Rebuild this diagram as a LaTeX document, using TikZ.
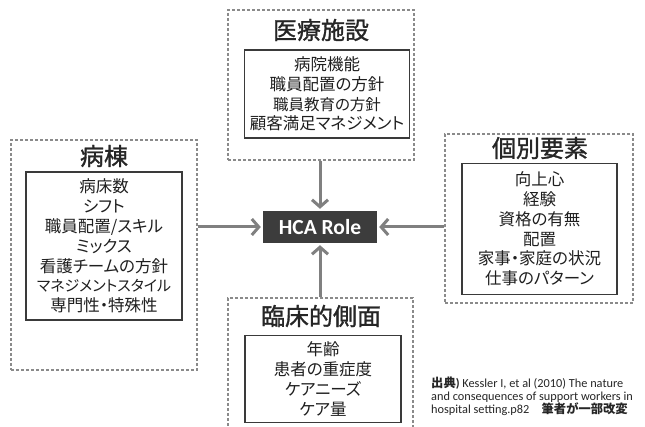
\documentclass[tikz,border=0pt]{standalone}
\usepackage{fontspec}
\setmainfont{Carlito}
\newfontfamily\jp[RawFeature=+palt]{Noto Sans CJK JP}
\newfontfamily\jpt[RawFeature=+palt, FakeBold=1.2]{Noto Sans CJK JP}
\usetikzlibrary{arrows.meta}
\definecolor{dashgray}{HTML}{8A8A8A}
\definecolor{boxgray}{HTML}{3A3A3A}
\definecolor{arrgray}{HTML}{808080}
\definecolor{hcafill}{HTML}{3C3C3C}
\begin{document}
\begin{tikzpicture}[x=1pt,y=-1pt,
  outbox/.style={draw=dashgray, dash pattern=on 3pt off 2pt, line width=1.1pt, rectangle, inner sep=0pt},
  inbox/.style={draw=boxgray, line width=1.3pt, rectangle, inner sep=0pt, align=center, text=black!88,
    font=\jp\fontsize{16.5}{19.8}\selectfont},
  ttl/.style={font=\jpt\fontsize{24}{24}\selectfont, text=black!85, inner sep=0pt},
  arr/.style={draw=arrgray, line width=3pt, -{Straight Barb[length=7pt,width=16pt]}, shorten >=2pt}]
\useasboundingbox (0,0) rectangle (645,427);
\fill[white] (0,0) rectangle (645,427);

% outer dashed boxes
\node[outbox, minimum width=186pt, minimum height=150pt] (top) at (321,85) {};
\node[outbox, minimum width=186pt, minimum height=230pt] (left) at (104,255) {};
\node[outbox, minimum width=188pt, minimum height=169pt] (right) at (539,218.5) {};
\node[outbox, minimum width=185pt, minimum height=150pt] (bottom) at (320.5,373) {};

% titles
\node[ttl] (ttop) at (321,30) {医療施設};
\node[ttl] (tleft) at (104,156) {病棟};
\node[ttl] (tright) at (540,148) {個別要素};
\node[ttl] (tbottom) at (321,316) {臨床的側面};

% inner boxes
\node[inbox, minimum width=165pt, minimum height=88pt] (itop) at (327,94)
  {病院機能\\職員配置の方針\\{\fontsize{15.5}{19.8}\selectfont 職員教育の方針}\\顧客満足マネジメント};
\node[inbox, minimum width=156pt, minimum height=148pt] (ileft) at (104,246)
  {病床数\\シフト\\職員配置/スキル\\ミックス\\看護チームの方針\\{\fontsize{15}{19.8}\selectfont マネジメントスタイル}\\専門性・特殊性};
\node[inbox, minimum width=155pt, minimum height=131pt] (iright) at (539.5,229)
  {向上心\\経験\\資格の有無\\配置\\家事・家庭の状況\\仕事のパターン};
\node[inbox, minimum width=156pt, minimum height=87pt] (ibottom) at (323,379)
  {年齢\\患者の重症度\\ケアニーズ\\ケア量};

% center
\node[fill=hcafill, text=white, minimum width=114pt, minimum height=32pt, inner sep=0pt,
  font=\bfseries\fontsize{21.5}{21.5}\selectfont] (hca) at (320,227) {HCA Role};

% arrows
\draw[arr] (hca |- top.south) -- (hca.north);
\draw[arr] (hca |- bottom.north) -- (hca.south);
\draw[arr] (left.east |- hca) -- (hca.west);
\draw[arr] (right.west |- hca) -- (hca.east);

% citation
\node[anchor=west, align=left, inner sep=0pt, text=black!85,
  font=\fontsize{12.3}{13}\selectfont] (cite) at (431,396)
  {{\jp\bfseries 出典}\textbf{)} Kessler I, et al (2010) The nature\\
   and consequences of support workers in\\
   hospital setting.p82\quad {\jp\bfseries 筆者が一部改変}};
\end{tikzpicture}
\end{document}
